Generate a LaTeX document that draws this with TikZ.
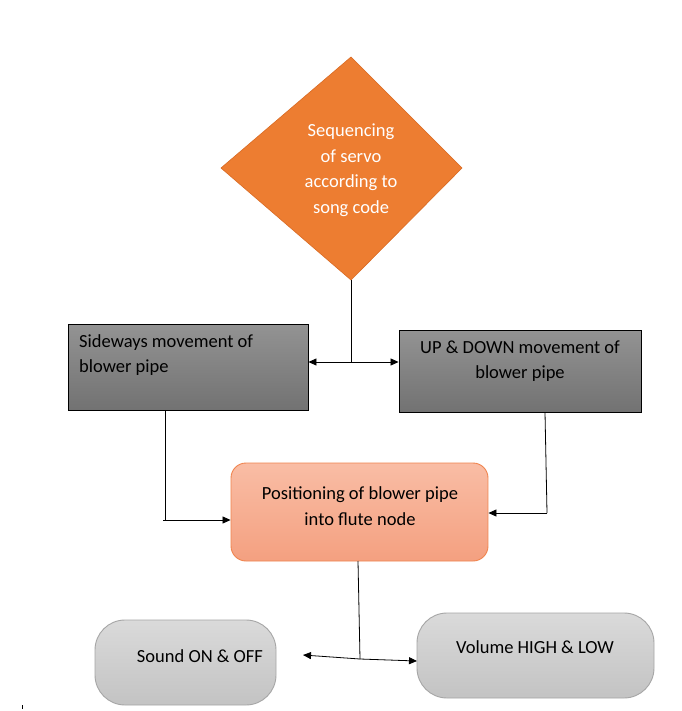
\documentclass[tikz,border=0pt]{standalone}
\usepackage{fontspec}
\setmainfont{Carlito}
\usetikzlibrary{shapes.geometric,arrows.meta}
\definecolor{orangeD}{HTML}{ED7D31}
\definecolor{orangeB}{HTML}{D96A22}
\definecolor{pinkT}{HTML}{F9BDA5}
\definecolor{pinkB}{HTML}{F4A080}
\definecolor{pinkE}{HTML}{F0844E}
\definecolor{grayT}{HTML}{939393}
\definecolor{grayB}{HTML}{727272}
\definecolor{lgT}{HTML}{DADADA}
\definecolor{lgB}{HTML}{C3C3C3}
\definecolor{lgE}{HTML}{A6A6A6}
\tikzset{
  every node/.style={font=\fontsize{18.5}{25.5}\selectfont},
  dgbox/.style={draw=black, line width=0.9pt, top color=grayT, bottom color=grayB, inner sep=0pt},
  pinkbox/.style={draw=pinkE, line width=0.9pt, top color=pinkT, bottom color=pinkB, rounded corners=15pt, inner sep=0pt},
  pill/.style={draw=lgE, line width=0.9pt, top color=lgT, bottom color=lgB, rounded corners=30pt, inner sep=0pt},
  conn/.style={line width=0.8pt, draw=black},
  tip/.style={-{Triangle[length=8pt,width=7pt]}},
  tips/.style={{Triangle[length=8pt,width=7pt]}-{Triangle[length=8pt,width=7pt]}},
}
\begin{document}
\begin{tikzpicture}[x=1pt,y=-1pt]
\useasboundingbox[fill=white] (0,0) rectangle (681,711);
% diamond
\draw[fill=orangeD, draw=orangeB, line width=0.6pt] (351,57) -- (462,168) -- (351,280) -- (221,168) -- cycle;
\coordinate (dbot) at (351,280);
\node[text=white, align=center, inner sep=0pt] (dtext) at (351,170) {Sequencing\\of servo\\according to\\song code};
% dark boxes
\node[dgbox, minimum width=240pt, minimum height=86pt] (left) at (188,367) {};
\node[anchor=west, align=left, inner sep=0pt] (ltext) at (79,355) {Sideways movement of\\blower pipe};
\node[dgbox, minimum width=242pt, minimum height=82pt] (right) at (520,371) {};
\node[align=center, inner sep=0pt] (rtext) at (520,361) {UP \& DOWN movement of\\blower pipe};
% pink box
\node[pinkbox, minimum width=257pt, minimum height=98pt] (pink) at (359.5,512) {};
\node[align=center, inner sep=0pt] (ptext) at (360,506) {Positioning of blower pipe\\into flute node};
% pills
\node[pill, minimum width=181pt, minimum height=85pt] (sound) at (185.5,662.5) {};
\node[inner sep=0pt] (stext) at (200,656) {Sound ON \& OFF};
\node[pill, minimum width=237pt, minimum height=85pt] (vol) at (535.5,655.5) {};
\node[inner sep=0pt] (vtext) at (535,647) {Volume HIGH \& LOW};
% connectors
\coordinate (j1) at (351,362);
\draw[conn] (dbot) -- (j1);
\draw[conn, tips] (left.east |- j1) -- (right.west |- j1);
\coordinate (lc) at (165,520);
\coordinate (lc0) at (163,520);
\draw[conn] (left.south -| lc) -- (lc);
\draw[conn, tip] (lc0) -- (pink.west |- lc);
\coordinate (rc) at (545,513);
\coordinate (rc0) at (547,513);
\draw[conn] (right.south -| rc) -- (rc0);
\draw[conn, tip] (rc0) -- (pink.east |- rc);
\coordinate (j3) at (360,659);
\draw[conn] (358,561) -- (j3);
\coordinate (sEnd) at (303,655);
\coordinate (vEnd) at (417,661);
\draw[conn, tip] (j3) -- (sEnd);
\draw[conn, tip] (j3) -- (vEnd);
\draw[line width=0.5pt] (22,705) -- (22,709);
\end{tikzpicture}
\end{document}
